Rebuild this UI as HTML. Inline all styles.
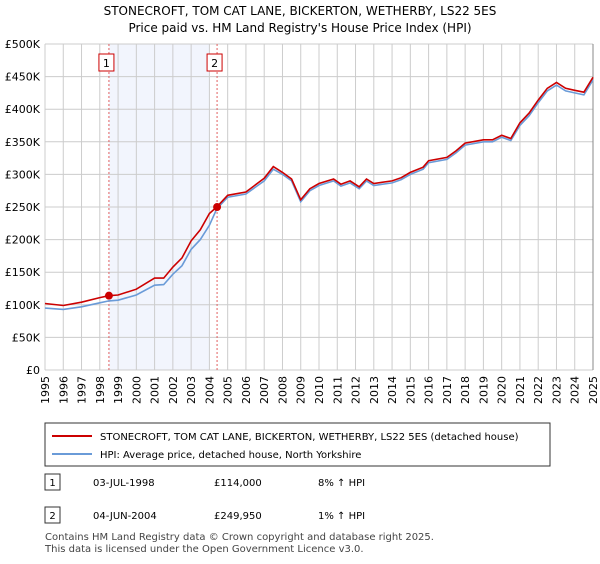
<!DOCTYPE html>
<html><head><meta charset="utf-8"><style>
body{margin:0;background:#fff;font-family:"DejaVu Sans","Liberation Sans",sans-serif;color:#222}
svg text{font-family:"DejaVu Sans","Liberation Sans",sans-serif}
</style></head><body>
<svg width="600" height="560" viewBox="0 0 600 560">
<text x="300" y="15" text-anchor="middle" font-size="12">STONECROFT, TOM CAT LANE, BICKERTON, WETHERBY, LS22 5ES</text>
<text x="300" y="32" text-anchor="middle" font-size="12">Price paid vs. HM Land Registry's House Price Index (HPI)</text>
<g id="plot"></g>
<rect x="45" y="423" width="505" height="43" fill="#fff" stroke="#333"/>
<line x1="52" y1="436" x2="92" y2="436" stroke="#cc0000" stroke-width="2"/>
<text x="100" y="440" font-size="10">STONECROFT, TOM CAT LANE, BICKERTON, WETHERBY, LS22 5ES (detached house)</text>
<line x1="52" y1="454" x2="92" y2="454" stroke="#6a9bd8" stroke-width="2"/>
<text x="100" y="458" font-size="10">HPI: Average price, detached house, North Yorkshire</text>
<g>
<rect x="45" y="474" width="15" height="16" fill="#fff" stroke="#333"/><text x="52.5" y="486" font-size="10" text-anchor="middle">1</text>
<text x="93" y="486" font-size="10">03-JUL-1998</text><text x="214" y="486" font-size="10">£114,000</text><text x="318" y="486" font-size="10">8% ↑ HPI</text></g>
<g>
<rect x="45" y="507" width="15" height="16" fill="#fff" stroke="#333"/><text x="52.5" y="519" font-size="10" text-anchor="middle">2</text>
<text x="93" y="519" font-size="10">04-JUN-2004</text><text x="214" y="519" font-size="10">£249,950</text><text x="318" y="519" font-size="10">1% ↑ HPI</text></g>
<text x="45" y="540" font-size="10" fill="#444">Contains HM Land Registry data © Crown copyright and database right 2025.</text>
<text x="45" y="552" font-size="10" fill="#444">This data is licensed under the Open Government Licence v3.0.</text>
</svg>
<script>
const yearsX=[1995,1996,1997,1998,1998.5,1999,2000,2001,2001.5,2002,2002.5,2003,2003.5,2004,2004.4,2005,2006,2007,2007.5,2008,2008.5,2009,2009.5,2010,2010.8,2011.2,2011.7,2012.2,2012.6,2013,2014,2014.5,2015,2015.7,2016,2017,2017.5,2018,2019,2019.5,2020,2020.5,2021,2021.5,2022,2022.5,2023,2023.5,2024,2024.5,2025];
const hpiValues=[95,93,97,103,106,107,115,130,131,147,160,185,200,222,247,265,270,290,308,300,290,258,275,283,290,282,287,278,290,283,287,292,300,308,318,323,333,345,350,350,357,352,375,390,410,428,437,428,425,422,445];
const priceValues=[102,99,104,111,114,115,124,141,141,158,172,198,215,240,250,268,273,294,312,303,293,261,278,286,293,285,290,281,293,286,290,295,303,311,321,326,336,348,353,353,360,355,379,394,414,432,441,432,429,426,449];
const yTicks=[0,50,100,150,200,250,300,350,400,450,500];
const yTickLabels=["£0","£50K","£100K","£150K","£200K","£250K","£300K","£350K","£400K","£450K","£500K"];
const xTicks=[1995,1996,1997,1998,1999,2000,2001,2002,2003,2004,2005,2006,2007,2008,2009,2010,2011,2012,2013,2014,2015,2016,2017,2018,2019,2020,2021,2022,2023,2024,2025];
const salesX=[1998.5,2004.42];
const salesY=[114,249.95];
const salesLabels=["1","2"];
const X=v=>45+(v-1995)*(548/30);
const Y=v=>370-v*0.652;
const NS="http://www.w3.org/2000/svg";
const g=document.getElementById('plot');
function mk(t,a,p){const e=document.createElementNS(NS,t);for(const k in a)e.setAttribute(k,a[k]);(p||g).appendChild(e);return e;}
const shade=mk('rect',{x:X(salesX[0]),y:Y(500),width:X(2004)-X(salesX[0]),height:Y(0)-Y(500),fill:'#f2f5fd'});


xTicks.forEach(t=>{const l=mk('line',{x1:X(t),x2:X(t),y1:Y(500),y2:Y(0),stroke:'#cccccc'});


const tx=mk('text',{x:0,y:0,'font-size':11,'text-anchor':'end',transform:`translate(${X(t)+4},376) rotate(-90)`});tx.textContent=t;

});
yTicks.forEach((t,i)=>{const l=mk('line',{x1:45,x2:593,y1:Y(t),y2:Y(t),stroke:'#cccccc'});


const tx=mk('text',{x:40,y:Y(t)+4,'font-size':11,'text-anchor':'end'});tx.textContent=yTickLabels[i];

});
const rb=mk('line',{x1:593,x2:593,y1:Y(500),y2:Y(0),stroke:'#888'});


salesX.forEach((s,i)=>{const l=mk('line',{x1:X(s),x2:X(s),y1:Y(500),y2:Y(0),stroke:'#e06060','stroke-dasharray':'2,2'});


const b=mk('rect',{x:X(s)-10,y:54,width:15,height:17,fill:'#fff',stroke:'#cc0000'});


const t=mk('text',{x:X(s)-2.5,y:67,'font-size':11,'text-anchor':'middle'});t.textContent=salesLabels[i];

});
const pts=a=>yearsX.map((x,i)=>X(x).toFixed(1)+','+Y(a[i]).toFixed(1)).join(' ');
const hl=mk('polyline',{points:pts(hpiValues),fill:'none',stroke:'#6a9bd8','stroke-width':1.6});


const pl=mk('polyline',{points:pts(priceValues),fill:'none',stroke:'#cc0000','stroke-width':1.6});


salesX.forEach((s,i)=>{const c=mk('circle',{cx:X(s),cy:Y(salesY[i]),r:4,fill:'#cc0000'});

});
</script>
</body></html>
